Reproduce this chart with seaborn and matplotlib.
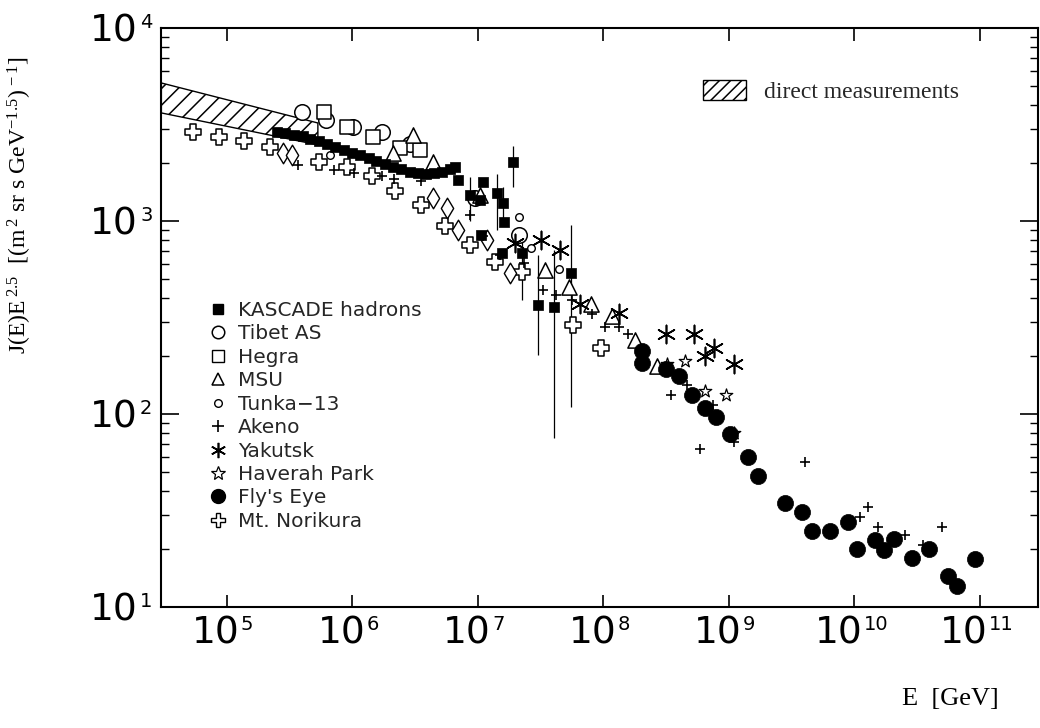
import matplotlib
matplotlib.use("Agg")
import matplotlib.pyplot as plt
import seaborn as sns
from matplotlib.lines import Line2D
from matplotlib.patches import Patch
from matplotlib.ticker import LogLocator, NullLocator, NullFormatter
from matplotlib.transforms import offset_copy, blended_transform_factory

# ---------------------------------------------------------------- data
# direct measurements band (energy in GeV, J(E)E^2.5)
band_E = [3.0e4, 5.3e5]
band_lo = [3630, 2480]
band_hi = [5190, 3220]

kascade_E = [2.5e5, 2.9e5, 3.4e5, 4.0e5, 4.6e5, 5.4e5, 6.3e5, 7.3e5, 8.5e5, 1.0e6,
             1.15e6, 1.35e6, 1.55e6, 1.8e6, 2.1e6, 2.45e6, 2.85e6, 3.3e6, 3.85e6,
             4.5e6, 5.2e6, 6.0e6, 6.6e6,
             6.97e6, 8.6e6, 1.04e7, 1.1e7, 1.41e7, 1.06e7, 1.55e7, 1.57e7, 1.62e7,
             1.89e7, 2.25e7, 3.0e7, 4.0e7, 5.47e7]
kascade_J = [2900, 2850, 2800, 2750, 2650, 2600, 2500, 2420, 2330, 2250,
             2200, 2120, 2050, 1980, 1900, 1850, 1800, 1780, 1760,
             1770, 1800, 1850, 1910,
             1630, 1370, 1285, 1600, 1390, 846, 682, 1235, 992,
             2030, 681, 367, 357, 536]
kascade_lo = [2900, 2850, 2800, 2750, 2650, 2600, 2500, 2420, 2330, 2250,
              2200, 2120, 2050, 1980, 1900, 1850, 1800, 1780, 1760,
              1770, 1800, 1850, 1910,
              1630, 1000, 1285, 1600, 900, 846, 682, 1000, 992,
              1500, 390, 202, 75, 109]
kascade_hi = [2900, 2850, 2800, 2750, 2650, 2600, 2500, 2420, 2330, 2250,
              2200, 2120, 2050, 1980, 1900, 1850, 1800, 1780, 1760,
              1770, 1800, 1850, 1910,
              1630, 1700, 1285, 1600, 1750, 846, 682, 1500, 992,
              2450, 797, 667, 707, 953]

tibet_E = [3.94e5, 6.2e5, 1.01e6, 1.71e6, 2.87e6, 9.5e6, 2.12e7]
tibet_J = [3680, 3330, 3080, 2900, 2510, 1316, 846]

hegra_E = [5.9e5, 9.0e5, 1.47e6, 2.39e6, 3.47e6]
hegra_J = [3660, 3080, 2720, 2380, 2320]

msu_E = [2.09e6, 3.05e6, 4.4e6, 1.04e7, 3.4e7, 5.3e7, 8.0e7, 1.17e8, 1.79e8, 2.65e8]
msu_J = [2260, 2790, 2030, 1365, 557, 457, 372, 321, 243, 177]

tunka_E = [6.6e5, 2.14e7, 2.64e7, 4.44e7]
tunka_J = [2200, 1052, 723, 562]

akeno_E = [3.7e5, 7.1e5, 1.02e6, 1.72e6, 2.13e6, 3.5e6, 8.6e6, 1.1e7, 1.5e7,
           2.33e7, 3.3e7, 4.2e7, 5.6e7, 8.15e7, 1.03e8, 1.32e8, 1.57e8, 3.46e8,
           4.63e8, 5.9e8, 7.5e8, 1.1e9, 4.0e9, 1.1e10, 1.29e10, 1.54e10, 2.55e10,
           3.5e10, 4.96e10]
akeno_J = [1940, 1830, 1770, 1720, 1660, 1620, 1075, 836, 667,
           606, 439, 414, 390, 330, 281, 281, 260, 126,
           142, 65.7, 112, 72, 56.4, 29.3, 32.8, 26.1, 23.6,
           21.0, 26.1]

yakutsk_E = [1.99e7, 3.19e7, 4.53e7, 6.49e7, 1.32e8, 3.17e8, 5.3e8, 7.6e8, 6.5e8, 1.1e9]
yakutsk_J = [769, 798, 708, 372, 334, 261, 261, 221, 200, 181]

haverah_E = [3.2e8, 4.5e8, 6.5e8, 9.4e8, 1.1e9]
haverah_J = [182, 188, 132, 126, 80]

flyseye_E = [2.02e8, 2.02e8, 3.15e8, 4.0e8, 5.06e8, 6.43e8, 7.93e8, 1.02e9, 1.43e9,
             1.69e9, 2.79e9, 3.84e9, 4.55e9, 6.37e9, 8.84e9, 1.05e10, 1.46e10,
             1.72e10, 2.05e10, 2.85e10, 3.95e10, 5.53e10, 6.6e10, 9.2e10]
flyseye_J = [212, 184, 172, 157, 126, 108, 96, 79, 59.7,
             47.5, 34.7, 31.0, 24.9, 24.8, 27.6, 19.9, 22.2,
             19.7, 22.4, 17.9, 19.9, 14.4, 12.9, 17.8]

norikura_E = [5.4e4, 8.6e4, 1.36e5, 2.2e5, 5.4e5, 9.0e5, 1.43e6, 2.19e6, 3.5e6,
              5.5e6, 8.7e6, 1.37e7, 2.26e7, 5.75e7, 9.6e7]
norikura_J = [2900, 2720, 2590, 2410, 2020, 1900, 1720, 1430, 1205,
              938, 748, 614, 546, 288, 221]

diamond_E = [2.81e5, 3.3e5, 4.4e6, 5.63e6, 6.97e6, 1.17e7, 1.79e7]
diamond_J = [2245, 2210, 1312, 1164, 898, 797, 540]

x_ticks = [1e5, 1e6, 1e7, 1e8, 1e9, 1e10, 1e11]
x_exps = ["5", "6", "7", "8", "9", "10", "11"]
y_ticks = [1e1, 1e2, 1e3, 1e4]
y_exps = ["1", "2", "3", "4"]

legend_labels = ["KASCADE hadrons", "Tibet AS", "Hegra", "MSU", "Tunka\u221213",
                 "Akeno", "Yakutsk", "Haverah Park", "Fly's Eye", "Mt. Norikura"]

# ---------------------------------------------------------------- style
sns.set_theme(style="ticks")
plt.rcParams["font.family"] = ["DejaVu Sans"]
plt.rcParams["mathtext.fontset"] = "custom"
plt.rcParams["mathtext.rm"] = "Liberation Serif"
plt.rcParams["mathtext.it"] = "Liberation Serif:italic"
plt.rcParams["hatch.linewidth"] = 1.1

fig = plt.figure(figsize=(10.4, 7.28), dpi=100)
ax = fig.add_axes([161 / 1040, 1 - 607 / 728, 877 / 1040, 579 / 728])
ax.set_xscale("log")
ax.set_yscale("log")

# hatched band of direct measurements
ax.fill_between(band_E, band_lo, band_hi, facecolor="white", edgecolor="black",
                hatch="//", linewidth=1.0, zorder=1)

# error bars on the KASCADE points
yerr = [[j - lo for j, lo in zip(kascade_J, kascade_lo)],
        [hi - j for j, hi in zip(kascade_J, kascade_hi)]]
ax.errorbar(kascade_E, kascade_J, yerr=yerr, fmt="none", ecolor="black",
            elinewidth=0.9, capsize=0, zorder=2)

def draw(E, J, marker, s, face, lw=1.0, z=3):
    kws = dict(x=E, y=J, marker=marker, s=s, ax=ax, zorder=z, legend=False)
    if face == "open":
        sns.scatterplot(color="white", edgecolor="black", linewidth=lw, **kws)
    elif face == "line":
        sns.scatterplot(color="black", linewidth=lw, **kws)
    else:
        sns.scatterplot(color="black", edgecolor="black", linewidth=lw, **kws)

draw(norikura_E, norikura_J, "P", 130, "open", 1.1)
draw(diamond_E, diamond_J, "d", 110, "open", 1.0)
draw(tibet_E, tibet_J, "o", 125, "open", 1.1)
draw(hegra_E, hegra_J, "s", 100, "open", 1.1)
draw(msu_E, msu_J, "^", 120, "open", 1.1)
draw(tunka_E, tunka_J, "o", 30, "open", 1.0)
draw(akeno_E, akeno_J, "+", 60, "line", 1.2)
draw(yakutsk_E, yakutsk_J, (6, 2, 0), 170, "line", 1.2)
draw(haverah_E, haverah_J, "*", 90, "open", 0.9)
draw(kascade_E, kascade_J, "s", 52, "fill", 0.5, z=4)
draw(flyseye_E, flyseye_J, "o", 135, "fill", 0.5, z=4)

ax.set_xlim(2.98e4, 2.9e11)
ax.set_ylim(10, 1e4)

# ---------------------------------------------------------------- axes, ticks
for sp in ax.spines.values():
    sp.set_linewidth(1.5)
    sp.set_color("black")
ax.xaxis.set_major_locator(LogLocator(base=10, numticks=20))
ax.xaxis.set_minor_locator(NullLocator())
ax.yaxis.set_major_locator(LogLocator(base=10, numticks=10))
ax.yaxis.set_minor_locator(LogLocator(base=10, subs=range(2, 10), numticks=10))
ax.xaxis.set_major_formatter(NullFormatter())
ax.yaxis.set_major_formatter(NullFormatter())
ax.yaxis.set_minor_formatter(NullFormatter())
ax.tick_params(axis="both", which="both", direction="in", top=True, right=True,
               colors="black")
ax.tick_params(axis="x", which="major", length=9, width=1.2)
ax.tick_params(axis="y", which="major", length=13, width=1.2)
ax.tick_params(axis="y", which="minor", length=6, width=1.0)

# powers of ten drawn as a large "10" with a small raised exponent
bx = blended_transform_factory(ax.transData, ax.transAxes)
for t, e in zip(x_ticks, x_exps):
    dx = 13 if len(e) == 1 else 8
    ax.text(t, 0, "10", transform=offset_copy(bx, fig=fig, x=dx, y=-36, units="dots"),
            ha="right", va="baseline", fontsize=27, color="black")
    ax.text(t, 0, e, transform=offset_copy(bx, fig=fig, x=dx + 1, y=-23, units="dots"),
            ha="left", va="baseline", fontsize=14, color="black")

by = blended_transform_factory(ax.transAxes, ax.transData)
for t, e in zip(y_ticks, y_exps):
    ax.text(0, t, "10", transform=offset_copy(by, fig=fig, x=-23, y=-13.5, units="dots"),
            ha="right", va="baseline", fontsize=27, color="black")
    ax.text(0, t, e, transform=offset_copy(by, fig=fig, x=-21, y=0, units="dots"),
            ha="left", va="baseline", fontsize=14, color="black")

ax.set_ylabel(r"J(E)E$^{\;2.5}$  [(m$^{\;2}$ sr s GeV$^{-1.5}$)$^{\,-1}$]",
              family="Liberation Serif", fontsize=17, color="black")
ax.yaxis.set_label_coords(-0.145, 0.694)
ax.set_xlabel("E  [GeV]", family="Liberation Serif", fontsize=19, color="black")
ax.xaxis.set_label_coords(0.9, -0.14)

# ---------------------------------------------------------------- legends
band_handle = Patch(facecolor="white", edgecolor="black", hatch="///", linewidth=1.0)
leg_band = ax.legend([band_handle], ["direct measurements"], loc="upper left",
                     bbox_to_anchor=(0.618, 0.910), frameon=False, borderpad=0,
                     borderaxespad=0, handlelength=1.82, handleheight=0.93,
                     handletextpad=0.78,
                     prop={"family": "Liberation Serif", "size": 17})
ax.add_artist(leg_band)

handles = [
    Line2D([], [], ls="none", marker="s", ms=7, mfc="black", mec="black"),
    Line2D([], [], ls="none", marker="o", ms=9, mfc="white", mec="black", mew=1.1),
    Line2D([], [], ls="none", marker="s", ms=8.5, mfc="white", mec="black", mew=1.0),
    Line2D([], [], ls="none", marker="^", ms=9, mfc="white", mec="black", mew=1.1),
    Line2D([], [], ls="none", marker="o", ms=5.5, mfc="white", mec="black", mew=1.0),
    Line2D([], [], ls="none", marker="+", ms=8, mec="black", mew=1.2),
    Line2D([], [], ls="none", marker=(6, 2, 0), ms=11, mec="black", mew=1.2),
    Line2D([], [], ls="none", marker="*", ms=10, mfc="white", mec="black", mew=0.9),
    Line2D([], [], ls="none", marker="o", ms=10, mfc="black", mec="black"),
    Line2D([], [], ls="none", marker="P", ms=10, mfc="white", mec="black", mew=1.0),
]
ax.legend(handles, legend_labels, loc="upper left", bbox_to_anchor=(0.0536, 0.5285),
          frameon=False, borderpad=0, borderaxespad=0, handlelength=1.0,
          handletextpad=0.5, labelspacing=0.22,
          prop={"family": "DejaVu Sans", "size": 14.5})

fig.savefig("out.png", dpi=100, facecolor="white")
